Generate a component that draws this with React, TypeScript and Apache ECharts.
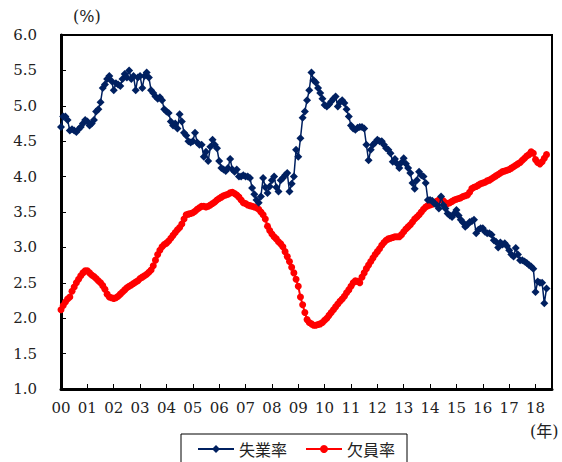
import React, { useEffect, useRef } from "react";
import * as echarts from "echarts";

// Monthly values, Jan 2000 – Jun 2018 (222 months)
const unemployment: number[] = [
  4.70, 4.85, 4.85, 4.80, 4.65, 4.67, 4.65, 4.63, 4.67, 4.70, 4.75, 4.80,
  4.78, 4.72, 4.75, 4.80, 4.92, 4.95, 5.05, 5.25, 5.30, 5.38, 5.42, 5.35,
  5.22, 5.32, 5.30, 5.28, 5.38, 5.45, 5.40, 5.50, 5.38, 5.42, 5.22, 5.40,
  5.42, 5.25, 5.42, 5.47, 5.40, 5.22, 5.18, 5.13, 5.10, 5.12, 5.08, 4.95,
  4.92, 4.90, 4.78, 4.72, 4.75, 4.68, 4.88, 4.78, 4.62, 4.58, 4.50, 4.48,
  4.50, 4.62, 4.48, 4.45, 4.45, 4.28, 4.35, 4.22, 4.42, 4.52, 4.45, 4.40,
  4.22, 4.12, 4.10, 4.08, 4.12, 4.25, 4.10, 4.07, 4.10, 4.00, 4.00, 4.02,
  4.00, 4.00, 3.98, 3.84, 3.75, 3.67, 3.63, 3.72, 3.98, 3.85, 3.77, 3.86,
  3.95, 4.00, 3.85, 3.79, 3.95, 3.98, 4.02, 4.05, 3.79, 3.90, 4.00, 4.38,
  4.28, 4.54, 4.83, 4.92, 5.08, 5.22, 5.47, 5.36, 5.33, 5.25, 5.18, 5.10,
  5.01, 4.99, 5.02, 5.06, 5.10, 5.13, 4.99, 5.05, 5.08, 5.04, 4.95, 4.85,
  4.72, 4.68, 4.66, 4.69, 4.70, 4.70, 4.68, 4.45, 4.23, 4.38, 4.45, 4.48,
  4.52, 4.50, 4.50, 4.45, 4.40, 4.38, 4.33, 4.21, 4.25, 4.18, 4.12, 4.20,
  4.26, 4.18, 4.12, 4.05, 3.91, 3.83, 3.95, 4.07, 4.02, 4.00, 3.91, 3.67,
  3.67, 3.66, 3.62, 3.60, 3.55, 3.72, 3.60, 3.55, 3.48, 3.45, 3.43, 3.48,
  3.53, 3.45, 3.39, 3.35, 3.29, 3.32, 3.36, 3.37, 3.39, 3.20, 3.25, 3.27,
  3.27, 3.22, 3.20, 3.20, 3.18, 3.10, 3.08, 3.00, 3.07, 3.04, 3.06, 3.02,
  2.96, 2.90, 2.87, 2.99, 2.90, 2.82, 2.82, 2.80, 2.78, 2.75, 2.73, 2.70,
  2.37, 2.52, 2.50, 2.50, 2.21, 2.42,
];

const vacancy: number[] = [
  2.12, 2.18, 2.23, 2.27, 2.30, 2.38, 2.44, 2.50, 2.55, 2.60, 2.64, 2.67,
  2.67, 2.64, 2.61, 2.59, 2.56, 2.53, 2.50, 2.46, 2.41, 2.34, 2.30, 2.29,
  2.28, 2.29, 2.31, 2.34, 2.37, 2.40, 2.43, 2.45, 2.47, 2.49, 2.51, 2.53,
  2.56, 2.58, 2.60, 2.62, 2.65, 2.68, 2.74, 2.82, 2.90, 2.96, 3.01, 3.04,
  3.06, 3.09, 3.13, 3.17, 3.21, 3.25, 3.28, 3.33, 3.40, 3.46, 3.47, 3.48,
  3.49, 3.51, 3.54, 3.56, 3.58, 3.58, 3.57, 3.58, 3.60, 3.62, 3.64, 3.67,
  3.69, 3.71, 3.73, 3.74, 3.75, 3.77, 3.78, 3.76, 3.74, 3.71, 3.67, 3.63,
  3.62, 3.60, 3.59, 3.58, 3.57, 3.56, 3.54, 3.50, 3.46, 3.40, 3.30, 3.24,
  3.19, 3.15, 3.12, 3.08, 3.05, 3.01, 2.94, 2.87, 2.80, 2.72, 2.64, 2.55,
  2.45, 2.30, 2.19, 2.08, 1.98, 1.94, 1.92, 1.90, 1.90, 1.91, 1.92, 1.94,
  1.97, 2.00, 2.04, 2.08, 2.12, 2.16, 2.20, 2.24, 2.27, 2.31, 2.36, 2.40,
  2.45, 2.50, 2.53, 2.52, 2.50, 2.58, 2.64, 2.70, 2.75, 2.80, 2.85, 2.90,
  2.94, 2.98, 3.03, 3.07, 3.10, 3.12, 3.13, 3.14, 3.15, 3.15, 3.15, 3.18,
  3.22, 3.26, 3.29, 3.32, 3.36, 3.40, 3.43, 3.46, 3.50, 3.54, 3.57, 3.59,
  3.60, 3.61, 3.63, 3.65, 3.67, 3.68, 3.66, 3.63, 3.62, 3.63, 3.65, 3.67,
  3.68, 3.69, 3.70, 3.72, 3.73, 3.74, 3.78, 3.83, 3.85, 3.86, 3.88, 3.90,
  3.91, 3.92, 3.94, 3.95, 3.97, 3.99, 4.01, 4.03, 4.05, 4.07, 4.08, 4.09,
  4.10, 4.12, 4.14, 4.16, 4.18, 4.20, 4.23, 4.26, 4.29, 4.31, 4.35, 4.33,
  4.24, 4.20, 4.18, 4.21, 4.26, 4.31,
];

const yearLabels: string[] = [
  "00", "01", "02", "03", "04", "05", "06", "07", "08", "09",
  "10", "11", "12", "13", "14", "15", "16", "17", "18",
];

const SERIF = "'DejaVu Serif', 'Liberation Serif', 'Noto Sans CJK JP', serif";
const CJK = "'Noto Sans CJK JP', sans-serif";

export default function App() {
  const ref = useRef<HTMLDivElement>(null);

  useEffect(() => {
    if (!ref.current) return;
    document.body.style.margin = "0";
    const chart = echarts.init(ref.current, undefined, { renderer: "svg" });
    const blueData = unemployment.map((v, i) => [i, v]);
    const redData = vacancy.map((v, i) => [i, v]);
    chart.setOption({
      animation: false,
      backgroundColor: "#ffffff",
      grid: {
        left: 61,
        right: 10,
        top: 35,
        bottom: 73,
        show: true,
        borderColor: "#000",
        borderWidth: 2,
        containLabel: false,
      },
      xAxis: {
        type: "value",
        min: 0,
        max: 223.5,
        interval: 12,
        axisLine: { show: true, lineStyle: { color: "#000", width: 3 } },
        axisTick: { show: true, inside: true, length: 5, lineStyle: { color: "#000", width: 1 } },
        splitLine: { show: false },
        axisLabel: {
          color: "#222",
          fontFamily: SERIF,
          fontSize: 15,
          margin: 11,
          showMaxLabel: false,
          formatter: (v: number) => {
            if (v % 12 !== 0) return "";
            const idx = v / 12;
            return yearLabels[idx] ?? "";
          },
        },
      },
      yAxis: {
        type: "value",
        min: 1,
        max: 6,
        interval: 0.5,
        axisLine: { show: true, lineStyle: { color: "#000", width: 3 } },
        axisTick: { show: true, inside: true, length: 5, lineStyle: { color: "#000", width: 1 } },
        splitLine: { show: false },
        axisLabel: {
          color: "#222",
          fontFamily: SERIF,
          fontSize: 15,
          margin: 24,
          formatter: (v: number) => v.toFixed(1),
        },
      },
      legend: {
        left: 181,
        top: 434,
        orient: "horizontal",
        borderColor: "#000",
        borderWidth: 1,
        borderRadius: 0,
        padding: [7, 12, 10, 16],
        itemGap: 18,
        itemWidth: 36,
        itemHeight: 10,
        textStyle: { fontFamily: CJK, fontSize: 16, color: "#222" },
        data: ["失業率", "欠員率"],
      },
      graphic: [
        {
          type: "text",
          left: 73,
          top: 8,
          style: { text: "(%)", font: `16px ${SERIF}`, fill: "#222" },
        },
        {
          type: "text",
          left: 530,
          top: 423,
          style: { text: "(年)", font: `16px ${SERIF}`, fill: "#222" },
        },
      ],
      series: [
        {
          name: "失業率",
          type: "line",
          data: blueData,
          z: 3,
          symbol: "diamond",
          symbolSize: 8,
          lineStyle: { color: "#002060", width: 1.5 },
          itemStyle: { color: "#002060" },
        },
        {
          name: "欠員率",
          type: "line",
          data: redData,
          z: 2,
          symbol: "circle",
          symbolSize: 7,
          lineStyle: { color: "#ff0000", width: 2 },
          itemStyle: { color: "#ff0000" },
        },
      ],
    });
    return () => chart.dispose();
  }, []);

  return <div ref={ref} style={{ width: 562, height: 462 }} />;
}
